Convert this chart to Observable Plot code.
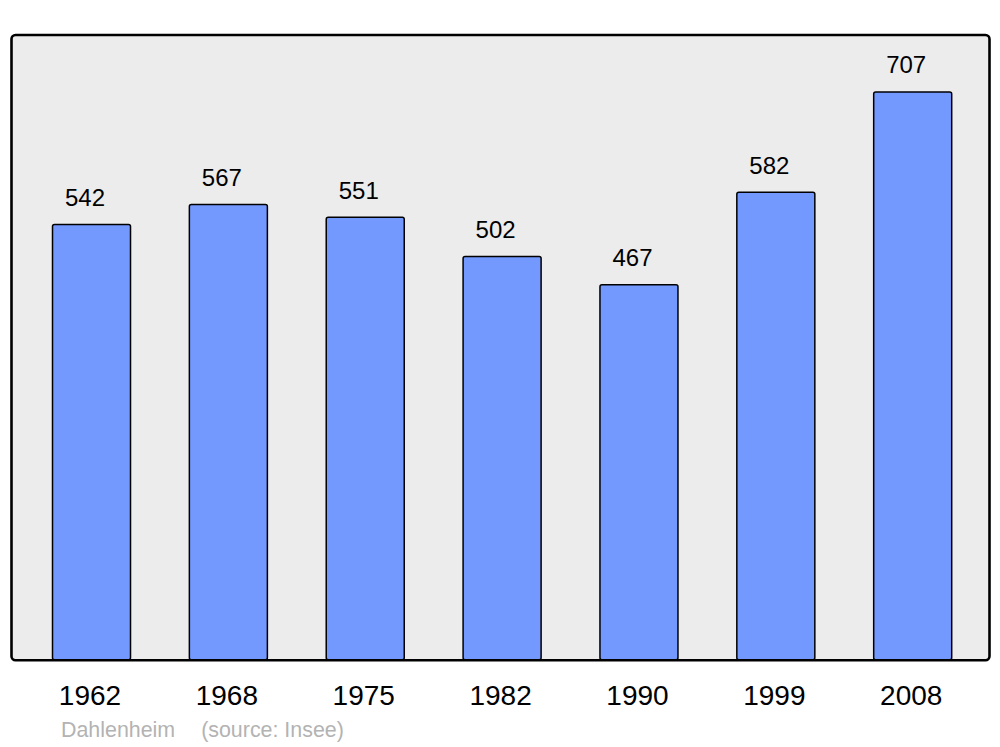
<!DOCTYPE html>
<html>
<head>
<meta charset="utf-8">
<script src="https://cdn.jsdelivr.net/npm/d3@7"></script>
<script src="https://cdn.jsdelivr.net/npm/@observablehq/plot@0.6"></script>
<style>
  html, body { margin: 0; padding: 0; background: #fff; }
  body { width: 1000px; height: 747px; position: relative; overflow: hidden; font-family: "Liberation Sans", Arial, sans-serif; }
  #caption { position: absolute; left: 61px; top: 718px; font-size: 21.4px; line-height: 24px; color: #b3b3b3; white-space: pre; }
  #caption span + span { margin-left: 26px; }
</style>
</head>
<body>
<div id="chart"></div>
<div id="caption"><span>Dahlenheim</span><span>(source: Insee)</span></div>
<script>
const years = ["1962", "1968", "1975", "1982", "1990", "1999", "2008"];
const population = [542, 567, 551, 502, 467, 582, 707];

const data = years.map((y, i) => ({year: y, value: population[i]}));

const chart = Plot.plot({
  width: 1000,
  height: 715,
  marginTop: 34.5,
  marginBottom: 55.3,
  marginLeft: 11,
  marginRight: 11,
  style: {fontFamily: "'Liberation Sans', Arial, sans-serif", background: "#fff"},
  x: {type: "band", domain: years, range: [52.5, 951.7], paddingInner: 0.43, paddingOuter: 0, round: false, label: null},
  y: {domain: [0, 778.6], axis: null},
  marks: [
    Plot.frame({fill: "#ececec", stroke: "none", rx: 4}),
    Plot.barY(data, {x: "year", y: "value", fill: "#7399ff", stroke: "#000", strokeWidth: 1.5, rx: 2}),
    Plot.text(data, {x: "year", y: "value", text: d => String(d.value), dx: -7, dy: -19, lineAnchor: "bottom", fontSize: 24, fill: "#000"}),
    Plot.frame({fill: "none", stroke: "#000", strokeWidth: 2.6, rx: 4}),
    Plot.axisX({tickSize: 0, tickPadding: 25, dx: -2, fontSize: 28, color: "#000", label: null})
  ]
});
document.getElementById("chart").appendChild(chart);
</script>
</body>
</html>
